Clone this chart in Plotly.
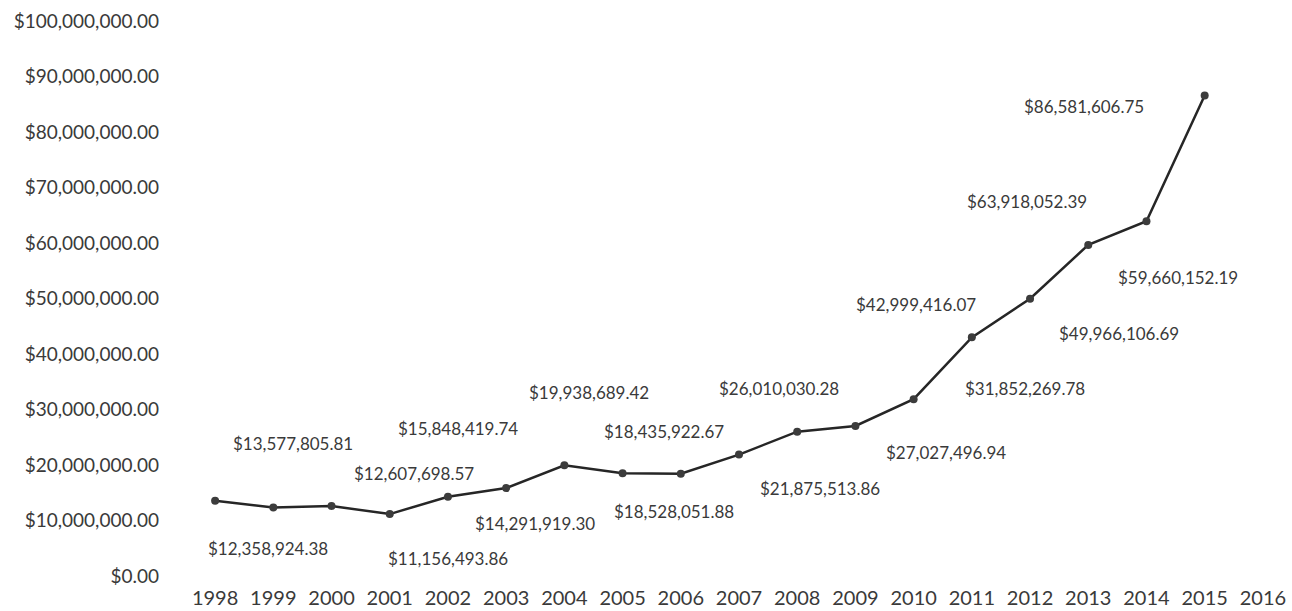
import plotly.graph_objects as go

# Yearly totals, 1998-2015 (2016 is on the axis but has no value yet)
years = [str(y) for y in range(1998, 2017)]
totals = [
    13577805.81, 12358924.38, 12607698.57, 11156493.86, 14291919.30,
    15848419.74, 19938689.42, 18528051.88, 18435922.67, 21875513.86,
    26010030.28, 27027496.94, 31852269.78, 42999416.07, 49966106.69,
    59660152.19, 63918052.39, 86581606.75,
]
y_ticks = [v * 10_000_000 for v in range(11)]

# Pixel offsets of each value label from its point (dx right, dy up)
label_offsets = [
    (78, 57), (-5, -41), (82, 33), (58, -44), (87, -27), (-48, 60),
    (25, 73), (51, -38), (-17, 42), (81, -34), (-18, 43), (91, -26),
    (111, 11), (-56, 33), (89, -35), (90, -33), (-119, 20), (-121, -11),
]

FONT = "Lato"
TEXT = "#3a3a3a"

x_pts = years[:len(totals)]

fig = go.Figure()
fig.add_trace(go.Scatter(
    x=x_pts, y=totals, mode="lines+markers",
    line=dict(color="#262626", width=2.5),
    marker=dict(color="#3c3c3c", size=8),
    hoverinfo="x+y",
))

annotations = []
for i, (v, (dx, dy)) in enumerate(zip(totals, label_offsets)):
    annotations.append(dict(
        xref="x", yref="y", x=i, y=v,
        text=f"${v:,.2f}", showarrow=False,
        xshift=dx, yshift=dy, xanchor="center", yanchor="middle",
        font=dict(family=FONT, size=17, color=TEXT),
    ))

fig.update_layout(
    width=1292, height=611,
    margin=dict(l=186, r=0, t=21, b=35),
    paper_bgcolor="white", plot_bgcolor="white",
    showlegend=False,
    annotations=annotations,
    xaxis=dict(
        type="category", categoryorder="array", categoryarray=years,
        range=[-0.5, len(years) - 0.5],
        showgrid=False, zeroline=False, showline=False, ticks="",
        tickfont=dict(family=FONT, size=20, color=TEXT),
        ticklabelstandoff=8, automargin=False,
    ),
    yaxis=dict(
        range=[0, 100_000_000],
        tickvals=y_ticks,
        ticktext=[f"${v:,.2f}" for v in y_ticks],
        showgrid=False, zeroline=False, showline=False, ticks="",
        tickfont=dict(family=FONT, size=19, color=TEXT),
        ticklabelstandoff=26, automargin=False,
    ),
)

fig.write_html("out.html")
